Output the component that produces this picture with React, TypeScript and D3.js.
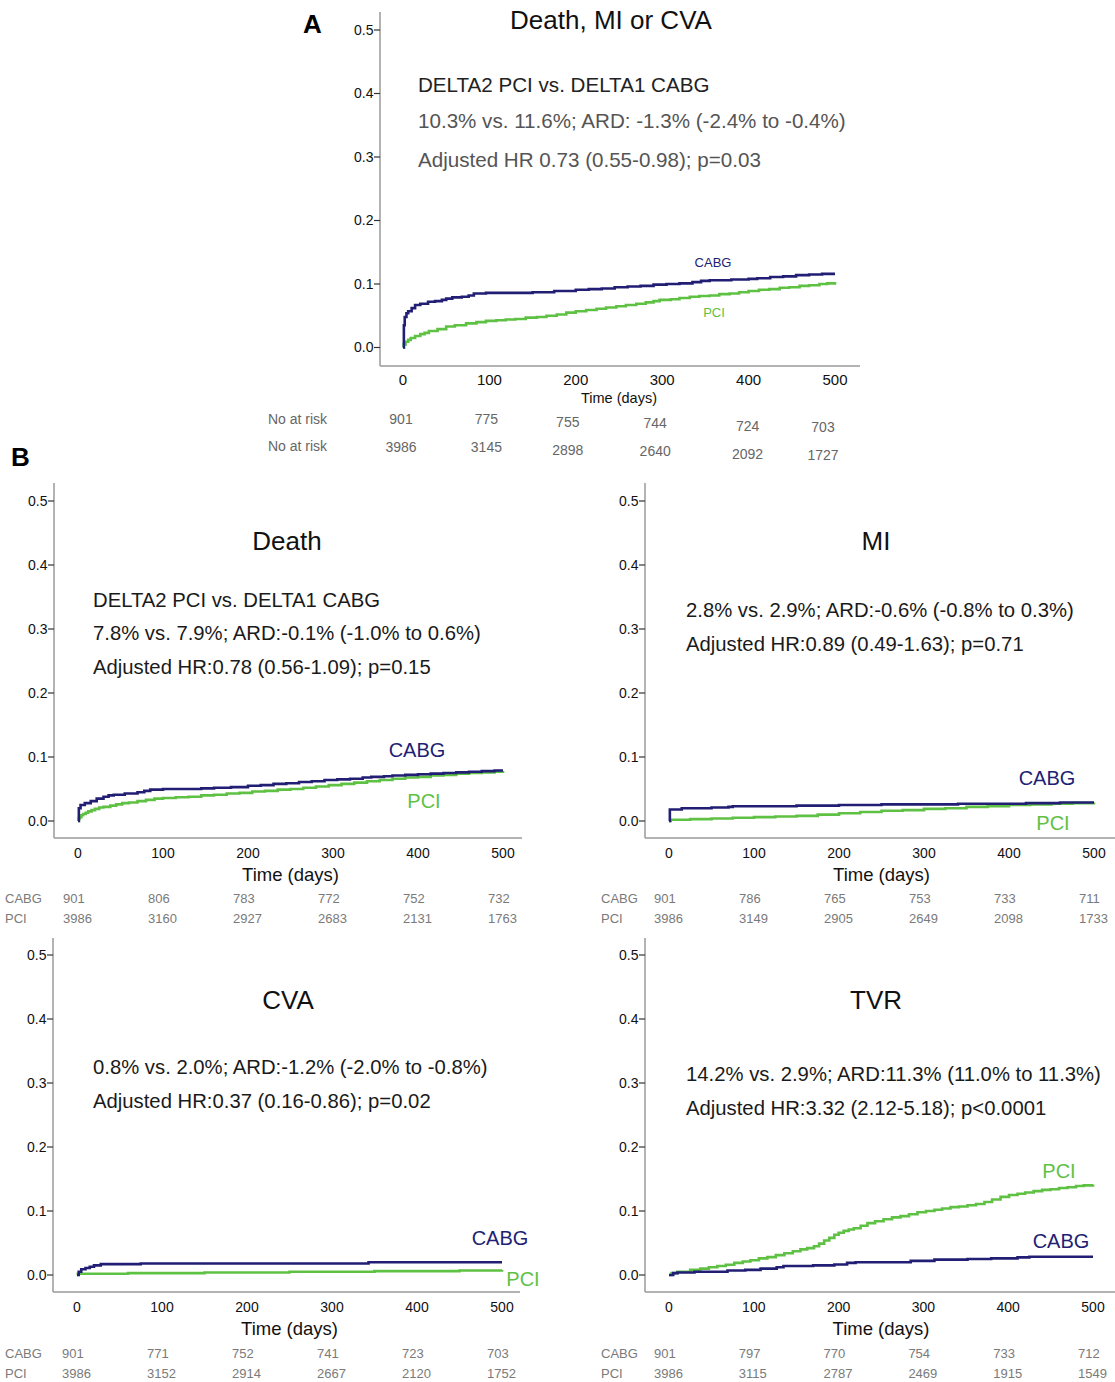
import React from "react";
import * as d3 from "d3";

type Pt = [number, number];

// ---------- DATA ----------
const dayTicks = [0, 100, 200, 300, 400, 500];
const yTicks = [0, 0.1, 0.2, 0.3, 0.4, 0.5];

// Panel A: Death, MI or CVA
const compCabg: Pt[] = [
  [0, 0], [1, 0.035], [2, 0.048], [4, 0.054], [6, 0.057], [10, 0.062], [14, 0.067], [20, 0.069],
  [29, 0.072], [37, 0.073], [45, 0.075], [50, 0.077], [57, 0.079], [68, 0.080], [76, 0.082],
  [82, 0.085], [96, 0.086], [120, 0.086], [150, 0.087], [175, 0.089], [200, 0.091], [215, 0.092],
  [230, 0.093], [245, 0.095], [260, 0.096], [275, 0.097], [290, 0.099], [305, 0.100], [320, 0.101],
  [335, 0.103], [345, 0.105], [355, 0.106], [380, 0.107], [400, 0.108], [410, 0.109], [425, 0.111],
  [440, 0.112], [455, 0.114], [470, 0.115], [485, 0.116], [500, 0.116],
];
const compPci: Pt[] = [
  [0, 0], [1, 0.005], [3, 0.009], [6, 0.012], [9, 0.015], [14, 0.018], [20, 0.021], [25, 0.023],
  [30, 0.026], [40, 0.029], [50, 0.033], [60, 0.035], [73, 0.038], [85, 0.040], [96, 0.042],
  [108, 0.043], [119, 0.044], [130, 0.045], [142, 0.047], [155, 0.048], [166, 0.050], [178, 0.052],
  [189, 0.055], [200, 0.057], [212, 0.059], [224, 0.061], [235, 0.063], [247, 0.065], [258, 0.067],
  [270, 0.069], [281, 0.071], [290, 0.073], [297, 0.075], [310, 0.076], [320, 0.078], [332, 0.080],
  [343, 0.081], [355, 0.082], [366, 0.084], [378, 0.085], [389, 0.087], [400, 0.089], [412, 0.091],
  [424, 0.092], [436, 0.094], [447, 0.095], [459, 0.097], [470, 0.098], [482, 0.100], [491, 0.101],
  [500, 0.103],
];

// Death
const deathCabg: Pt[] = [
  [0, 0], [1, 0.02], [3, 0.025], [8, 0.028], [15, 0.031], [22, 0.035], [30, 0.038], [36, 0.040],
  [42, 0.041], [55, 0.043], [70, 0.045], [78, 0.047], [85, 0.049], [100, 0.050], [130, 0.050],
  [145, 0.051], [160, 0.052], [180, 0.053], [200, 0.055], [215, 0.056], [230, 0.058], [245, 0.059],
  [260, 0.061], [275, 0.062], [290, 0.064], [305, 0.065], [320, 0.066], [335, 0.068], [345, 0.069],
  [360, 0.070], [370, 0.071], [385, 0.072], [400, 0.073], [415, 0.074], [430, 0.075], [445, 0.076],
  [460, 0.077], [475, 0.078], [490, 0.079], [500, 0.079],
];
const deathPci: Pt[] = [
  [0, 0], [1, 0.004], [2, 0.006], [4, 0.009], [6, 0.011], [9, 0.013], [12, 0.015], [16, 0.017],
  [20, 0.019], [25, 0.021], [30, 0.022], [38, 0.024], [45, 0.026], [52, 0.028], [60, 0.029],
  [70, 0.031], [80, 0.033], [90, 0.035], [100, 0.036], [115, 0.037], [130, 0.038], [145, 0.040],
  [160, 0.041], [175, 0.043], [190, 0.044], [205, 0.046], [220, 0.047], [235, 0.049], [250, 0.050],
  [265, 0.052], [280, 0.054], [295, 0.056], [310, 0.058], [325, 0.060], [340, 0.062], [355, 0.064],
  [370, 0.066], [385, 0.068], [400, 0.069], [415, 0.071], [430, 0.072], [445, 0.074], [460, 0.075],
  [475, 0.076], [490, 0.077], [500, 0.078],
];

// MI
const miCabg: Pt[] = [
  [0, 0], [1, 0.018], [15, 0.020], [50, 0.021], [70, 0.022], [75, 0.023], [150, 0.024],
  [200, 0.025], [250, 0.026], [340, 0.027], [420, 0.028], [460, 0.029], [500, 0.029],
];
const miPci: Pt[] = [
  [0, 0], [2, 0.002], [25, 0.003], [50, 0.004], [75, 0.005], [100, 0.006], [125, 0.007],
  [150, 0.008], [175, 0.010], [200, 0.012], [225, 0.014], [250, 0.016], [275, 0.017],
  [300, 0.019], [325, 0.020], [350, 0.022], [375, 0.023], [400, 0.025], [425, 0.026],
  [450, 0.027], [475, 0.028], [500, 0.029],
];

// CVA
const cvaCabg: Pt[] = [
  [0, 0], [2, 0.005], [5, 0.009], [10, 0.011], [15, 0.013], [20, 0.015], [28, 0.017],
  [75, 0.018], [343, 0.020], [500, 0.020],
];
const cvaPci: Pt[] = [
  [0, 0], [1, 0.002], [60, 0.003], [150, 0.004], [250, 0.005], [350, 0.006], [450, 0.007], [500, 0.008],
];

// TVR
const tvrCabg: Pt[] = [
  [0, 0], [5, 0.003], [10, 0.004], [30, 0.005], [69, 0.007], [90, 0.008], [108, 0.010],
  [127, 0.012], [135, 0.014], [170, 0.015], [195, 0.0165], [210, 0.019], [220, 0.020],
  [285, 0.022], [313, 0.024], [352, 0.025], [380, 0.026], [411, 0.0275], [425, 0.0285], [500, 0.0285],
];
const tvrPci: Pt[] = [
  [0, 0], [3, 0.003], [10, 0.005], [25, 0.008], [37, 0.010], [47, 0.012], [57, 0.014],
  [67, 0.016], [77, 0.019], [87, 0.021], [96, 0.023], [106, 0.026], [116, 0.028], [126, 0.031],
  [136, 0.034], [146, 0.037], [155, 0.040], [163, 0.042], [171, 0.045], [177, 0.049], [183, 0.054],
  [189, 0.058], [195, 0.063], [200, 0.066], [206, 0.069], [212, 0.071], [218, 0.073], [226, 0.077],
  [234, 0.081], [243, 0.084], [253, 0.087], [263, 0.090], [273, 0.092], [283, 0.095], [293, 0.098],
  [303, 0.100], [313, 0.102], [322, 0.104], [332, 0.106], [342, 0.107], [352, 0.109], [362, 0.111],
  [372, 0.114], [381, 0.118], [391, 0.122], [401, 0.125], [411, 0.127], [420, 0.129], [430, 0.131],
  [440, 0.133], [450, 0.134], [460, 0.136], [470, 0.137], [480, 0.139], [489, 0.140], [500, 0.1415],
];

// Numbers at risk
const riskA_cabg = [901, 775, 755, 744, 724, 703];
const riskA_pci = [3986, 3145, 2898, 2640, 2092, 1727];
const riskDeath_cabg = [901, 806, 783, 772, 752, 732];
const riskDeath_pci = [3986, 3160, 2927, 2683, 2131, 1763];
const riskMi_cabg = [901, 786, 765, 753, 733, 711];
const riskMi_pci = [3986, 3149, 2905, 2649, 2098, 1733];
const riskCva_cabg = [901, 771, 752, 741, 723, 703];
const riskCva_pci = [3986, 3152, 2914, 2667, 2120, 1752];
const riskTvr_cabg = [901, 797, 770, 754, 733, 712];
const riskTvr_pci = [3986, 3115, 2787, 2469, 1915, 1549];

// ---------- STYLE ----------
const FONT = "'Liberation Sans', Arial, Helvetica, sans-serif";
const CABG_COLOR = "#211e74";
const PCI_COLOR = "#5fc144";
const AXIS_COLOR = "#9a9a9a";

interface PanelCfg {
  title: string;
  titlePos: Pt;
  titleSize: number;
  stats: { text: string; color: string }[];
  statsX: number;
  statsY: number[];
  statsSize: number;
  xRange: Pt;
  yRange: Pt;
  axisLeft: number;
  axisTop: number;
  axisBottom: number;
  axisRight: number;
  xTickSize: number;
  xTickDy: number;
  yTickSize: number;
  timeSize: number;
  timeDy: number;
  cabg: Pt[];
  pci: Pt[];
  cabgLabel: Pt;
  pciLabel: Pt;
  curveLabelSize: number;
  riskCabg: number[];
  riskPci: number[];
}

const Panel: React.FC<{ c: PanelCfg }> = ({ c }) => {
  const x = d3.scaleLinear().domain([0, 500]).range(c.xRange);
  const y = d3.scaleLinear().domain([0, 0.5]).range(c.yRange);
  const line = d3
    .line<Pt>()
    .x((d) => x(d[0]))
    .y((d) => y(d[1]))
    .curve(d3.curveStepAfter);
  const fmt = d3.format(".1f");
  return (
    <g fontFamily={FONT}>
      <line x1={c.axisLeft} x2={c.axisLeft} y1={c.axisTop} y2={c.axisBottom} stroke={AXIS_COLOR} strokeWidth={1.5} />
      <line x1={c.axisLeft} x2={c.axisRight} y1={c.axisBottom} y2={c.axisBottom} stroke={AXIS_COLOR} strokeWidth={1.5} />
      {yTicks.map((t) => (
        <g key={t}>
          <line x1={c.axisLeft - 6} x2={c.axisLeft} y1={y(t)} y2={y(t)} stroke="#333" strokeWidth={1.2} />
          <text x={c.axisLeft - 6.5} y={y(t)} dy="0.35em" textAnchor="end" fontSize={c.yTickSize} fill="#111">
            {fmt(t)}
          </text>
        </g>
      ))}
      {dayTicks.map((t) => (
        <text key={t} x={x(t)} y={c.axisBottom + c.xTickDy} dy="0.35em" textAnchor="middle" fontSize={c.xTickSize} fill="#111">
          {t}
        </text>
      ))}
      <text x={(x(0) + x(500)) / 2} y={c.axisBottom + c.timeDy} dy="0.35em" textAnchor="middle" fontSize={c.timeSize} fill="#111">
        Time (days)
      </text>
      <text x={c.titlePos[0]} y={c.titlePos[1]} dy="0.35em" textAnchor="middle" fontSize={c.titleSize} fill="#111">
        {c.title}
      </text>
      {c.stats.map((s, i) => (
        <text key={i} x={c.statsX} y={c.statsY[i]} dy="0.35em" fontSize={c.statsSize} fill={s.color}>
          {s.text}
        </text>
      ))}
      <path d={line(c.pci) || ""} fill="none" stroke={PCI_COLOR} strokeWidth={2.6} />
      <path d={line(c.cabg) || ""} fill="none" stroke={CABG_COLOR} strokeWidth={2.6} />
      <text x={c.cabgLabel[0]} y={c.cabgLabel[1]} dy="0.35em" textAnchor="middle" fontSize={c.curveLabelSize} fill={CABG_COLOR}>
        CABG
      </text>
      <text x={c.pciLabel[0]} y={c.pciLabel[1]} dy="0.35em" textAnchor="middle" fontSize={c.curveLabelSize} fill={PCI_COLOR}>
        PCI
      </text>
    </g>
  );
};

const RiskB: React.FC<{ cabg: number[]; pci: number[]; xs: (t: number) => number; labelX: number; y1: number; y2: number }> = ({ cabg, pci, xs, labelX, y1, y2 }) => (
  <g fontFamily={FONT} fontSize={13} fill="#7a7a7a">
    <text x={labelX} y={y1} dy="0.35em">CABG</text>
    <text x={labelX} y={y2} dy="0.35em">PCI</text>
    {dayTicks.map((t, i) => (
      <g key={t}>
        <text x={xs(t) - 15} y={y1} dy="0.35em">{cabg[i]}</text>
        <text x={xs(t) - 15} y={y2} dy="0.35em">{pci[i]}</text>
      </g>
    ))}
  </g>
);

const GRAY_TEXT = "#555";
const DARK_TEXT = "#1a1a1a";

const panelA: PanelCfg = {
  title: "Death, MI or CVA",
  titlePos: [611, 20],
  titleSize: 26,
  stats: [
    { text: "DELTA2 PCI vs. DELTA1 CABG", color: "#222" },
    { text: "10.3% vs. 11.6%; ARD: -1.3% (-2.4% to -0.4%)", color: GRAY_TEXT },
    { text: "Adjusted HR 0.73 (0.55-0.98); p=0.03", color: GRAY_TEXT },
  ],
  statsX: 418,
  statsY: [85, 121, 160],
  statsSize: 20.6,
  xRange: [403, 835],
  yRange: [347.5, 30],
  axisLeft: 380,
  axisTop: 12,
  axisBottom: 366,
  axisRight: 860,
  xTickSize: 15,
  xTickDy: 14,
  yTickSize: 14,
  timeSize: 14.5,
  timeDy: 32,
  cabg: compCabg,
  pci: compPci,
  cabgLabel: [713, 262],
  pciLabel: [714, 312],
  curveLabelSize: 13,
  riskCabg: riskA_cabg,
  riskPci: riskA_pci,
};

const bCommon = {
  titleSize: 26,
  statsSize: 20.3,
  xTickSize: 14,
  xTickDy: 15,
  yTickSize: 14,
  timeSize: 18.5,
  timeDy: 37,
  curveLabelSize: 20,
};

const panelDeath: PanelCfg = {
  ...bCommon,
  title: "Death",
  titlePos: [287, 541],
  stats: [
    { text: "DELTA2 PCI vs. DELTA1 CABG", color: DARK_TEXT },
    { text: "7.8% vs. 7.9%; ARD:-0.1% (-1.0% to 0.6%)", color: DARK_TEXT },
    { text: "Adjusted HR:0.78 (0.56-1.09); p=0.15", color: DARK_TEXT },
  ],
  statsX: 93,
  statsY: [600, 633, 667],
  xRange: [78, 503],
  yRange: [821, 501],
  axisLeft: 54,
  axisTop: 483,
  axisBottom: 838,
  axisRight: 522,
  cabg: deathCabg,
  pci: deathPci,
  cabgLabel: [417, 750],
  pciLabel: [424, 801],
  riskCabg: riskDeath_cabg,
  riskPci: riskDeath_pci,
};

const panelMi: PanelCfg = {
  ...bCommon,
  title: "MI",
  titlePos: [876, 541],
  stats: [
    { text: "2.8% vs. 2.9%; ARD:-0.6% (-0.8% to 0.3%)", color: DARK_TEXT },
    { text: "Adjusted HR:0.89 (0.49-1.63); p=0.71", color: DARK_TEXT },
  ],
  statsX: 686,
  statsY: [610, 644],
  xRange: [669, 1094],
  yRange: [821, 501],
  axisLeft: 645,
  axisTop: 483,
  axisBottom: 838,
  axisRight: 1115,
  cabg: miCabg,
  pci: miPci,
  cabgLabel: [1047, 778],
  pciLabel: [1053, 823],
  riskCabg: riskMi_cabg,
  riskPci: riskMi_pci,
};

const panelCva: PanelCfg = {
  ...bCommon,
  title: "CVA",
  titlePos: [288, 1000],
  stats: [
    { text: "0.8% vs. 2.0%; ARD:-1.2% (-2.0% to -0.8%)", color: DARK_TEXT },
    { text: "Adjusted HR:0.37 (0.16-0.86); p=0.02", color: DARK_TEXT },
  ],
  statsX: 93,
  statsY: [1067, 1101],
  xRange: [77, 502],
  yRange: [1275, 955],
  axisLeft: 53,
  axisTop: 938,
  axisBottom: 1292,
  axisRight: 520,
  cabg: cvaCabg,
  pci: cvaPci,
  cabgLabel: [500, 1238],
  pciLabel: [523, 1279],
  riskCabg: riskCva_cabg,
  riskPci: riskCva_pci,
};

const panelTvr: PanelCfg = {
  ...bCommon,
  title: "TVR",
  titlePos: [876, 1000],
  stats: [
    { text: "14.2% vs. 2.9%; ARD:11.3% (11.0% to 11.3%)", color: DARK_TEXT },
    { text: "Adjusted HR:3.32 (2.12-5.18); p<0.0001", color: DARK_TEXT },
  ],
  statsX: 686,
  statsY: [1074, 1108],
  xRange: [669, 1093],
  yRange: [1275, 955],
  axisLeft: 645,
  axisTop: 938,
  axisBottom: 1292,
  axisRight: 1115,
  cabg: tvrCabg,
  pci: tvrPci,
  cabgLabel: [1061, 1241],
  pciLabel: [1059, 1171],
  riskCabg: riskTvr_cabg,
  riskPci: riskTvr_pci,
};

// Panel A risk table layout tweaks (column offsets as drawn in the original)
const riskA_dx = [-2, -3, -8, -7, -1, -12];
const riskA_dy = [0, 0, 3, 4, 7, 8];

export default function App() {
  const xA = d3.scaleLinear().domain([0, 500]).range(panelA.xRange);
  const bPanels = [panelDeath, panelMi, panelCva, panelTvr];
  const riskRows: [number, number, number][] = [
    [5, 898, 918],
    [601, 898, 918],
    [5, 1353, 1373],
    [601, 1353, 1373],
  ];
  return (
    <svg width={1115} height={1382} style={{ position: "absolute", left: 0, top: 0, background: "#fff" }}>
      <rect width={1115} height={1382} fill="#fff" />
      <text x={303} y={24} dy="0.35em" fontFamily={FONT} fontWeight="bold" fontSize={26} fill="#000">A</text>
      <text x={11} y={457} dy="0.35em" fontFamily={FONT} fontWeight="bold" fontSize={26} fill="#000">B</text>
      <Panel c={panelA} />
      <g fontFamily={FONT} fontSize={14} fill="#666">
        <text x={268} y={419} dy="0.35em">No at risk</text>
        <text x={268} y={446} dy="0.35em">No at risk</text>
        {dayTicks.map((t, i) => (
          <g key={t}>
            <text x={xA(t) + riskA_dx[i]} y={419 + riskA_dy[i]} dy="0.35em" textAnchor="middle">{riskA_cabg[i]}</text>
            <text x={xA(t) + riskA_dx[i]} y={447 + riskA_dy[i]} dy="0.35em" textAnchor="middle">{riskA_pci[i]}</text>
          </g>
        ))}
      </g>
      {bPanels.map((p, i) => {
        const xs = d3.scaleLinear().domain([0, 500]).range(p.xRange);
        return (
          <g key={p.title}>
            <Panel c={p} />
            <RiskB cabg={p.riskCabg} pci={p.riskPci} xs={xs} labelX={riskRows[i][0]} y1={riskRows[i][1]} y2={riskRows[i][2]} />
          </g>
        );
      })}
    </svg>
  );
}
